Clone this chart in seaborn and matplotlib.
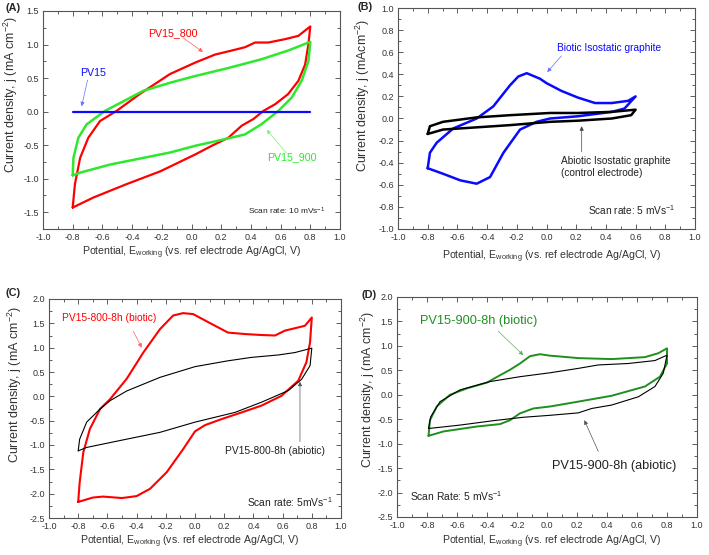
import matplotlib
matplotlib.use("Agg")
import matplotlib.pyplot as plt
from matplotlib.ticker import MultipleLocator, FormatStrFormatter
import seaborn as sns

# ---- data ----
# each CV loop = anodic sweep (fwd, -0.8 -> end) + cathodic sweep (rev, end -> -0.8)

# (A)
a_red_fwd_x = [-0.80, -0.785, -0.75, -0.695, -0.616, -0.505, -0.35, -0.145, 0.024, 0.158, 0.27, 0.36, 0.428, 0.517, 0.63, 0.72, 0.80]
a_red_fwd_y = [-1.43, -1.08, -0.69, -0.39, -0.14, 0.01, 0.26, 0.56, 0.73, 0.85, 0.91, 0.96, 1.03, 1.03, 1.08, 1.13, 1.27]
a_red_rev_x = [0.80, 0.787, 0.765, 0.72, 0.65, 0.563, 0.484, 0.417, 0.338, 0.248, 0.136, 0.024, -0.21, -0.436, -0.66, -0.80]
a_red_rev_y = [1.27, 1.00, 0.70, 0.46, 0.26, 0.11, 0.01, -0.11, -0.21, -0.39, -0.51, -0.64, -0.89, -1.08, -1.28, -1.43]
a_grn_fwd_x = [-0.80, -0.795, -0.762, -0.706, -0.583, -0.436, -0.325, -0.145, 0.024, 0.248, 0.47, 0.65, 0.80]
a_grn_fwd_y = [-0.95, -0.69, -0.39, -0.19, 0.01, 0.18, 0.31, 0.43, 0.53, 0.65, 0.78, 0.91, 1.04]
a_grn_rev_x = [0.80, 0.787, 0.742, 0.675, 0.585, 0.47, 0.36, 0.226, 0.024, -0.145, -0.325, -0.55, -0.75, -0.80]
a_grn_rev_y = [1.04, 0.75, 0.46, 0.21, 0.01, -0.19, -0.34, -0.41, -0.51, -0.61, -0.69, -0.79, -0.91, -0.95]
a_blu_x = [-0.80, 0.80]
a_blu_y = [0.0, 0.0]

# (B)
b_blu_fwd_x = [-0.80, -0.785, -0.74, -0.628, -0.47, -0.358, -0.246, -0.19, -0.133, -0.044, 0.0, 0.10, 0.21, 0.327, 0.44, 0.55, 0.60]
b_blu_fwd_y = [-0.45, -0.31, -0.22, -0.09, 0.00, 0.11, 0.30, 0.38, 0.41, 0.36, 0.32, 0.25, 0.19, 0.14, 0.14, 0.16, 0.20]
b_blu_rev_x = [0.60, 0.525, 0.44, 0.21, 0.024, -0.067, -0.178, -0.29, -0.38, -0.47, -0.58, -0.697, -0.80]
b_blu_rev_y = [0.20, 0.09, 0.06, 0.02, 0.00, -0.03, -0.10, -0.31, -0.53, -0.59, -0.56, -0.50, -0.45]
b_blk_fwd_x = [-0.80, -0.785, -0.697, -0.47, -0.246, 0.024, 0.21, 0.44, 0.60]
b_blk_fwd_y = [-0.14, -0.07, -0.03, 0.01, 0.03, 0.05, 0.05, 0.06, 0.08]
b_blk_rev_x = [0.60, 0.57, 0.44, 0.21, 0.024, -0.246, -0.47, -0.697, -0.80]
b_blk_rev_y = [0.08, 0.03, 0.00, -0.02, -0.03, -0.06, -0.08, -0.10, -0.14]

# (C)
c_red_fwd_x = [-0.80, -0.79, -0.765, -0.72, -0.65, -0.582, -0.468, -0.354, -0.24, -0.15, -0.082, -0.013, 0.112, 0.226, 0.342, 0.456, 0.548, 0.616, 0.685, 0.753, 0.80]
c_red_fwd_y = [-2.17, -1.77, -1.15, -0.67, -0.26, -0.06, 0.36, 0.90, 1.38, 1.66, 1.71, 1.69, 1.49, 1.31, 1.28, 1.26, 1.25, 1.35, 1.40, 1.45, 1.62]
c_red_rev_x = [0.80, 0.788, 0.763, 0.707, 0.592, 0.456, 0.32, 0.18, 0.07, 0.0, -0.08, -0.194, -0.308, -0.40, -0.50, -0.63, -0.70, -0.80]
c_red_rev_y = [1.62, 1.11, 0.70, 0.32, 0.01, -0.19, -0.33, -0.47, -0.59, -0.72, -1.08, -1.56, -1.90, -2.05, -2.09, -2.06, -2.08, -2.17]
c_blk_fwd_x = [-0.80, -0.79, -0.742, -0.65, -0.582, -0.468, -0.24, 0.0, 0.226, 0.386, 0.57, 0.685, 0.80]
c_blk_fwd_y = [-1.12, -0.88, -0.53, -0.26, -0.09, 0.11, 0.39, 0.61, 0.73, 0.80, 0.85, 0.90, 0.99]
c_blk_rev_x = [0.80, 0.788, 0.73, 0.64, 0.456, 0.274, 0.137, 0.0, -0.24, -0.468, -0.742, -0.80]
c_blk_rev_y = [0.99, 0.63, 0.35, 0.12, -0.12, -0.33, -0.43, -0.53, -0.74, -0.88, -1.05, -1.12]

# (D)
d_grn_fwd_x = [-0.79, -0.78, -0.735, -0.647, -0.535, -0.40, -0.313, -0.247, -0.18, -0.113, -0.047, 0.02, 0.098, 0.209, 0.431, 0.653, 0.742, 0.80]
d_grn_fwd_y = [-0.84, -0.52, -0.24, 0.00, 0.13, 0.25, 0.40, 0.51, 0.64, 0.79, 0.83, 0.80, 0.78, 0.75, 0.73, 0.77, 0.85, 0.95]
d_grn_rev_x = [0.80, 0.80, 0.753, 0.653, 0.431, 0.209, 0.02, -0.091, -0.18, -0.247, -0.313, -0.47, -0.69, -0.79]
d_grn_rev_y = [0.95, 0.64, 0.37, 0.17, -0.02, -0.14, -0.24, -0.28, -0.38, -0.52, -0.60, -0.65, -0.75, -0.84]
d_blk_fwd_x = [-0.79, -0.775, -0.713, -0.58, -0.38, -0.18, 0.02, 0.209, 0.342, 0.542, 0.72, 0.80]
d_blk_fwd_y = [-0.69, -0.45, -0.14, 0.10, 0.27, 0.37, 0.45, 0.54, 0.61, 0.64, 0.70, 0.81]
d_blk_rev_x = [0.80, 0.775, 0.72, 0.61, 0.431, 0.298, 0.209, 0.02, -0.158, -0.358, -0.58, -0.79]
d_blk_rev_y = [0.81, 0.44, 0.17, -0.04, -0.21, -0.28, -0.37, -0.42, -0.46, -0.53, -0.62, -0.69]

# ---- style ----
sns.set_style("ticks")
plt.rcParams["font.family"] = ["Liberation Sans", "DejaVu Sans"]
plt.rcParams["mathtext.default"] = "regular"
plt.rcParams["axes.unicode_minus"] = False

XLAB = r"Potential, E$_{working}$ (vs. ref electrode Ag/AgCl, V)"
RED = "#ff0000"
LIME = "#2ee82e"
BLUE = "#0a0aff"
DGREEN = "#1f8f1f"


def cv_loop(ax, fx, fy, rx, ry, color, lw):
    sns.lineplot(x=fx + rx, y=fy + ry, sort=False, estimator=None,
                 color=color, lw=lw, ax=ax, solid_joinstyle="round")


def setup(ax, ylim, ymaj, ylabel, ylab_pos, xlab_pos):
    ax.set_xlim(-1.0, 1.0)
    ax.set_ylim(*ylim)
    ax.xaxis.set_major_locator(MultipleLocator(0.2))
    ax.xaxis.set_minor_locator(MultipleLocator(0.1))
    ax.yaxis.set_major_locator(MultipleLocator(ymaj))
    ax.yaxis.set_minor_locator(MultipleLocator(ymaj / 2))
    ax.xaxis.set_major_formatter(FormatStrFormatter("%.1f"))
    ax.yaxis.set_major_formatter(FormatStrFormatter("%.1f"))
    ax.tick_params(which="both", direction="in", top=True, right=True,
                   color="#444444", width=0.6)
    ax.tick_params(which="major", length=3.5, labelsize=6.5, labelcolor="#333333", pad=3)
    ax.tick_params(which="minor", length=2)
    for s in ax.spines.values():
        s.set_color("#555555")
        s.set_linewidth(0.8)
    ax.set_xlabel(XLAB, fontsize=7.6, color="#333333")
    ax.set_ylabel(ylabel, fontsize=9.0, color="#333333")
    ax.xaxis.set_label_coords(*xlab_pos)
    ax.yaxis.set_label_coords(*ylab_pos)
    ax.xaxis.label.set_va("center")
    ax.yaxis.label.set_va("center")


def arrow(ax, start, end, color):
    ax.annotate("", xy=end, xytext=start,
                arrowprops=dict(arrowstyle="-|>", color=color, lw=0.5,
                                mutation_scale=6, shrinkA=0, shrinkB=0))


fig = plt.figure(figsize=(7.09, 5.55), dpi=100)
W, H = 709, 555
axA = fig.add_axes([43 / W, 1 - 229 / H, 297 / W, 218 / H])
axB = fig.add_axes([398 / W, 1 - 229 / H, 297 / W, 221 / H])
axC = fig.add_axes([49 / W, 1 - 518 / H, 292 / W, 219 / H])
axD = fig.add_axes([397 / W, 1 - 517 / H, 300 / W, 220 / H])

# (A)
cv_loop(axA, a_red_fwd_x, a_red_fwd_y, a_red_rev_x, a_red_rev_y, RED, 1.6)
cv_loop(axA, a_grn_fwd_x, a_grn_fwd_y, a_grn_rev_x, a_grn_rev_y, LIME, 1.8)
sns.lineplot(x=a_blu_x, y=a_blu_y, color=BLUE, lw=1.6, ax=axA)
setup(axA, (-1.75, 1.5), 0.5, r"Current density, j (mA cm$^{-2}$)", (-0.108, 0.615), (0.50, -0.11))
axA.text(-0.125, 1.17, "PV15_800", color=RED, fontsize=7.7, ha="center", va="center")
arrow(axA, (-0.057, 1.10), (0.077, 0.89), "#ff6060")
axA.text(-0.66, 0.58, "PV15", color=BLUE, fontsize=7.7, ha="center", va="center")
arrow(axA, (-0.70, 0.47), (-0.74, 0.08), "#6070ff")
axA.text(0.673, -0.68, "PV15_900", color=LIME, fontsize=7.7, ha="center", va="center")
arrow(axA, (0.64, -0.62), (0.506, -0.27), "#80f080")
axA.text(0.90, -1.48, r"Scan rate: 10 mVs$^{-1}$", fontsize=6.0, ha="right", va="center", color="#222222")

# (B)
cv_loop(axB, b_blu_fwd_x, b_blu_fwd_y, b_blu_rev_x, b_blu_rev_y, BLUE, 1.8)
cv_loop(axB, b_blk_fwd_x, b_blk_fwd_y, b_blk_rev_x, b_blk_rev_y, "black", 1.8)
setup(axB, (-1.0, 1.0), 0.2, r"Current density, j (mAcm$^{-2}$)", (-0.117, 0.606), (0.517, -0.125))
axB.text(0.073, 0.635, "Biotic Isostatic graphite", color=BLUE, fontsize=7.3, ha="left", va="center")
arrow(axB, (0.10, 0.566), (0.005, 0.42), "#6070ff")
axB.text(0.096, -0.44, "Abiotic Isostatic graphite\n(control electrode)", color="#222222",
         fontsize=7.3, ha="left", va="center", linespacing=1.25)
arrow(axB, (0.237, -0.30), (0.237, -0.07), "#444444")
axB.text(0.87, -0.83, r"Scan rate: 5 mVs$^{-1}$", fontsize=7.3, ha="right", va="center", color="#222222")

# (C)
cv_loop(axC, c_red_fwd_x, c_red_fwd_y, c_red_rev_x, c_red_rev_y, RED, 1.5)
cv_loop(axC, c_blk_fwd_x, c_blk_fwd_y, c_blk_rev_x, c_blk_rev_y, "black", 0.8)
setup(axC, (-2.5, 2.0), 0.5, r"Current density, j (mA cm$^{-2}$)", (-0.116, 0.61), (0.483, -0.108))
axC.text(-0.909, 1.60, "PV15-800-8h (biotic)", color=RED, fontsize=7.4, ha="left", va="center")
arrow(axC, (-0.423, 1.34), (-0.365, 1.0), "#ff6060")
axC.text(0.89, -1.12, "PV15-800-8h (abiotic)", color="#222222", fontsize=7.4, ha="right", va="center")
arrow(axC, (0.719, -0.93), (0.719, 0.30), "#555555")
axC.text(0.945, -2.17, r"Scan rate: 5mVs$^{-1}$", fontsize=7.4, ha="right", va="center", color="#222222")

# (D)
cv_loop(axD, d_grn_fwd_x, d_grn_fwd_y, d_grn_rev_x, d_grn_rev_y, DGREEN, 1.4)
cv_loop(axD, d_blk_fwd_x, d_blk_fwd_y, d_blk_rev_x, d_blk_rev_y, "black", 0.8)
setup(axD, (-2.5, 2.0), 0.5, r"Current density, j (mA cm$^{-2}$)", (-0.098, 0.577), (0.516, -0.112))
axD.text(-0.847, 1.50, "PV15-900-8h (biotic)", color=DGREEN, fontsize=9.2, ha="left", va="center")
arrow(axD, (-0.325, 1.30), (-0.158, 0.81), "#60b060")
axD.text(0.031, -1.46, "PV15-900-8h (abiotic)", color="#222222", fontsize=9.2, ha="left", va="center")
arrow(axD, (0.342, -1.16), (0.249, -0.52), "#555555")
axD.text(-0.913, -2.08, r"Scan Rate: 5 mVs$^{-1}$", fontsize=7.4, ha="left", va="center", color="#222222")

# panel letters
for lbl, x, y in [("(A)", 5, 8), ("(B)", 358, 7), ("(C)", 5, 293), ("(D)", 362, 295)]:
    fig.text(x / W, 1 - y / H, lbl, fontsize=7.8, fontweight="bold", ha="left", va="center")

fig.savefig("out.png", dpi=100)
